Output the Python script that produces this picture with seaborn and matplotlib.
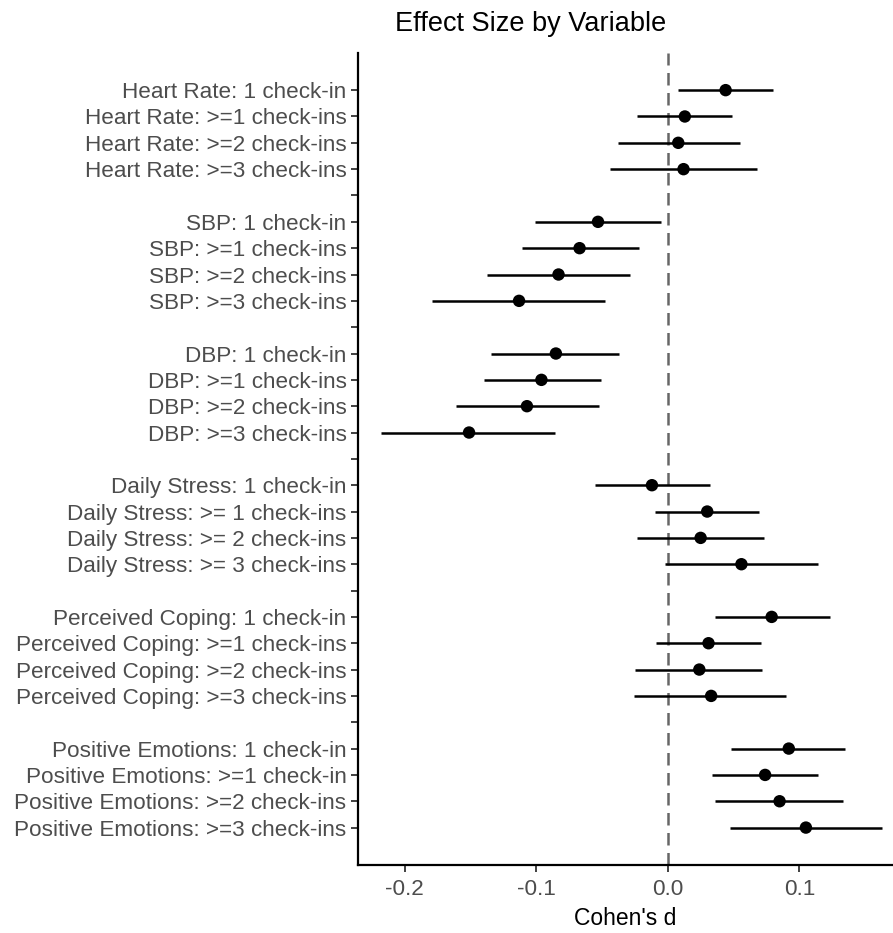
import numpy as np
import pandas as pd
import seaborn as sns
import matplotlib.pyplot as plt

# effect sizes
groups = ["Heart Rate", "SBP", "DBP", "Daily Stress", "Perceived Coping", "Positive Emotions"]

labels = [
    "Heart Rate: 1 check-in", "Heart Rate: >=1 check-ins", "Heart Rate: >=2 check-ins", "Heart Rate: >=3 check-ins",
    "SBP: 1 check-in", "SBP: >=1 check-ins", "SBP: >=2 check-ins", "SBP: >=3 check-ins",
    "DBP: 1 check-in", "DBP: >=1 check-ins", "DBP: >=2 check-ins", "DBP: >=3 check-ins",
    "Daily Stress: 1 check-in", "Daily Stress: >= 1 check-ins", "Daily Stress: >= 2 check-ins", "Daily Stress: >= 3 check-ins",
    "Perceived Coping: 1 check-in", "Perceived Coping: >=1 check-ins", "Perceived Coping: >=2 check-ins", "Perceived Coping: >=3 check-ins",
    "Positive Emotions: 1 check-in", "Positive Emotions: >=1 check-in", "Positive Emotions: >=2 check-ins", "Positive Emotions: >=3 check-ins",
]

estimate = [0.044, 0.013, 0.008, 0.012,
            -0.053, -0.067, -0.083, -0.113,
            -0.085, -0.096, -0.107, -0.151,
            -0.012, 0.030, 0.025, 0.056,
            0.079, 0.031, 0.024, 0.033,
            0.092, 0.074, 0.085, 0.105]

ci_low = [0.008, -0.023, -0.038, -0.044,
          -0.101, -0.111, -0.137, -0.179,
          -0.134, -0.140, -0.161, -0.218,
          -0.055, -0.010, -0.023, -0.002,
          0.036, -0.009, -0.025, -0.026,
          0.048, 0.034, 0.036, 0.047]

ci_high = [0.080, 0.049, 0.055, 0.068,
           -0.005, -0.022, -0.029, -0.048,
           -0.037, -0.051, -0.052, -0.086,
           0.032, 0.069, 0.073, 0.114,
           0.123, 0.071, 0.072, 0.090,
           0.135, 0.114, 0.133, 0.163]

# row positions: 4 rows per group, blank row between groups
pos = []
for g in range(len(groups)):
    pos += [g * 5 + k for k in range(4)]
blank_pos = [g * 5 + 4 for g in range(len(groups) - 1)]

df = pd.DataFrame({"label": labels, "d": estimate, "lo": ci_low, "hi": ci_high, "pos": pos})

sns.set_theme(style="ticks")
plt.rcParams["font.family"] = ["Liberation Sans", "DejaVu Sans"]

fig = plt.figure(figsize=(8.93, 9.33), dpi=100)
ax = fig.add_axes([0.4006, 0.0729, 0.5994, 0.8700])

ax.axvline(0, color="#666666", lw=1.8, ls=(0, (5, 3)), zorder=1)
ax.hlines(df["pos"], df["lo"], df["hi"], color="black", lw=1.8, zorder=2)
sns.scatterplot(data=df, x="d", y="pos", color="black", s=80, edgecolor="none", ax=ax, zorder=3)

ax.set_xlim(-0.2356, 0.1712)
ax.set_ylim(28 + 1.42, -1.4)
ax.set_xticks([-0.2, -0.1, 0.0, 0.1])
ax.set_xticklabels(["-0.2", "-0.1", "0.0", "0.1"])
ax.set_yticks(pos + blank_pos)
ax.set_yticklabels(labels + [""] * len(blank_pos))

ax.tick_params(axis="both", colors="#333333", labelcolor="#4D4D4D", labelsize=16.2, length=5, width=1.3)
ax.tick_params(axis="x", pad=5)
ax.tick_params(axis="y", pad=3)
for side in ["left", "bottom"]:
    ax.spines[side].set_linewidth(1.6)
    ax.spines[side].set_color("black")
sns.despine(ax=ax)

ax.set_xlabel("Cohen's d", fontsize=16.5, color="black", labelpad=5)
ax.set_ylabel("")
fig.text(0.594, 1 - 31 / 933, "Effect Size by Variable", fontsize=19.5, color="black",
         ha="center", va="baseline")

fig.savefig("out.png", dpi=100)
